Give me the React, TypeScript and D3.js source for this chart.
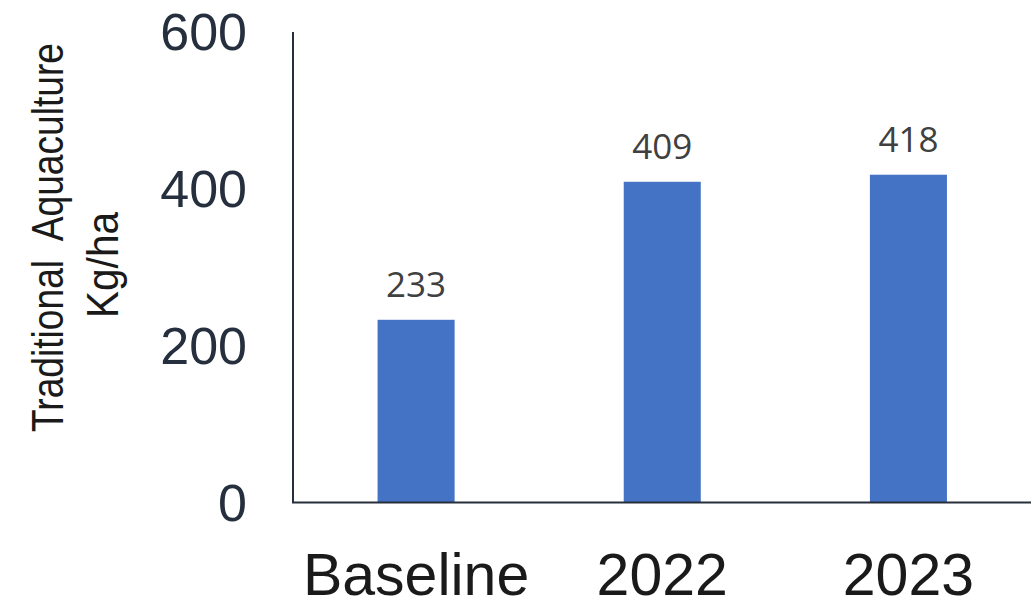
import React from "react";
import * as d3 from "d3";

const categories = ["Baseline", "2022", "2023"];
const values = [233, 409, 418];
const yTicks = [0, 200, 400, 600];
const titleLines = ["Traditional  Aquaculture", "Kg/ha"];

export default function App() {
  const W = 1031;
  const H = 599;
  const left = 293;
  const right = 1031;
  const top = 32;
  const bottom = 502.5;

  const x = d3
    .scaleBand<string>()
    .domain(categories)
    .range([left, right + 0.5])
    .paddingInner(0.687)
    .paddingOuter(0.3435);
  const y = d3.scaleLinear().domain([0, 600]).range([bottom, top]);

  const axisColor = "#262f3a";

  return (
    <div style={{ position: "absolute", left: 0, top: 0 }}>
      <svg width={W} height={H} style={{ display: "block" }}>
        <rect x={0} y={0} width={W} height={H} fill="#ffffff" />
        {categories.map((c, i) => (
          <rect
            key={c}
            x={x(c)!}
            y={y(values[i])}
            width={x.bandwidth()}
            height={bottom - y(values[i])}
            fill="#4472C4"
          />
        ))}
        <line x1={left} x2={left} y1={top} y2={bottom} stroke={axisColor} strokeWidth={2} />
        <line x1={left - 1} x2={right} y1={bottom} y2={bottom} stroke={axisColor} strokeWidth={2} />
        {yTicks.map((t) => (
          <text
            key={t}
            x={247}
            y={y(t)}
            dy="0.355em"
            textAnchor="end"
            fontFamily="'Liberation Sans', Arial, sans-serif"
            fontSize={52}
            fill="#262f3d"
          >
            {t}
          </text>
        ))}
        {categories.map((c) => (
          <text
            key={c}
            x={x(c)! + x.bandwidth() / 2}
            y={595}
            textAnchor="middle"
            fontFamily="'Liberation Sans', Arial, sans-serif"
            fontSize={59}
            fill="#1a1a1a"
          >
            {c}
          </text>
        ))}
        {categories.map((c, i) => (
          <text
            key={"v" + c}
            x={x(c)! + x.bandwidth() / 2}
            y={y(values[i]) - 23}
            textAnchor="middle"
            fontFamily="'Open Sans', sans-serif"
            fontSize={35}
            fill="#404040"
          >
            {values[i]}
          </text>
        ))}
        <text
          transform={`translate(63,237.5) rotate(-90)`}
          textAnchor="middle"
          fontFamily="'Liberation Sans', Arial, sans-serif"
          fontSize={45}
          fill="#1a1a1a"
          textLength={389}
          lengthAdjust="spacingAndGlyphs"
          style={{ whiteSpace: "pre" }}
        >
          {titleLines[0]}
        </text>
        <text
          transform={`translate(118,265) rotate(-90)`}
          textAnchor="middle"
          fontFamily="'Liberation Sans', Arial, sans-serif"
          fontSize={45}
          fill="#1a1a1a"
          textLength={106}
          lengthAdjust="spacingAndGlyphs"
        >
          {titleLines[1]}
        </text>
      </svg>
    </div>
  );
}
